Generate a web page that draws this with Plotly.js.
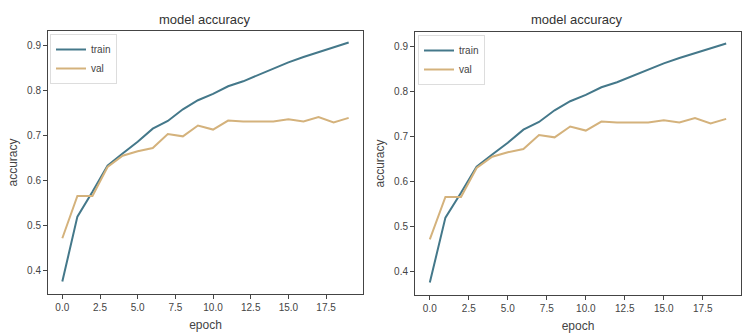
<!DOCTYPE html>
<html>
<head>
<meta charset="utf-8">
<script src="https://cdn.plot.ly/plotly-3.0.1.min.js"></script>
<style>html,body{margin:0;padding:0;background:#fff;}#chart{width:743px;height:333px;}</style>
</head>
<body>
<div id="chart"></div>
<script>
const epochs = [0,1,2,3,4,5,6,7,8,9,10,11,12,13,14,15,16,17,18,19];
const trainAcc = [0.376,0.520,0.575,0.633,0.660,0.686,0.715,0.732,0.758,0.778,0.792,0.809,0.820,0.834,0.848,0.862,0.874,0.885,0.896,0.906];
const valAcc = [0.472,0.566,0.566,0.630,0.655,0.665,0.672,0.703,0.698,0.722,0.713,0.733,0.731,0.731,0.731,0.736,0.731,0.741,0.729,0.739];
const xTicks = [0,2.5,5,7.5,10,12.5,15,17.5];
const xTickText = ["0.0","2.5","5.0","7.5","10.0","12.5","15.0","17.5"];
const yTicks = [0.4,0.5,0.6,0.7,0.8,0.9];
const yTickText = ["0.4","0.5","0.6","0.7","0.8","0.9"];
const chartTitle = "model accuracy";
const seriesNames = ["train","val"];

const trainColor = "#44788a";
const valColor = "#d4b27c";
const FONT = "Liberation Sans, Arial, sans-serif";

const traces = [];
[["x","y","legend"],["x2","y2","legend2"]].forEach(([xa,ya,lg]) => {
  traces.push({x: epochs, y: trainAcc, type: "scatter", mode: "lines", name: seriesNames[0],
    xaxis: xa, yaxis: ya, legend: lg, line: {color: trainColor, width: 2}});
  traces.push({x: epochs, y: valAcc, type: "scatter", mode: "lines", name: seriesNames[1],
    xaxis: xa, yaxis: ya, legend: lg, line: {color: valColor, width: 2}});
});

function xAxis(domain, anchor) {
  return {domain: domain, anchor: anchor, range: [-0.95, 19.95], tickvals: xTicks, ticktext: xTickText,
    showgrid: false, zeroline: false, showline: true, mirror: true, linecolor: "#444", linewidth: 1,
    ticks: "outside", ticklen: 4, tickcolor: "#444", tickfont: {family: FONT, size: 10, color: "#444"},
    title: {text: "epoch", font: {family: FONT, size: 12, color: "#444"}, standoff: 8}};
}
function yAxis(domain, anchor) {
  return {domain: domain, anchor: anchor, range: [0.3485, 0.9315], tickvals: yTicks, ticktext: yTickText,
    showgrid: false, zeroline: false, showline: true, mirror: true, linecolor: "#444", linewidth: 1,
    ticks: "outside", ticklen: 4, tickcolor: "#444", tickfont: {family: FONT, size: 10, color: "#444"},
    title: {text: "accuracy", font: {family: FONT, size: 12, color: "#444"}, standoff: 6}};
}

const W = 743, H = 333;
const legendStyle = {xanchor: "left", yanchor: "top", bgcolor: "#fff",
    bordercolor: "#ddd", borderwidth: 1, font: {family: FONT, size: 10, color: "#444"},
    tracegroupgap: 0, itemwidth: 30};
const layout = {
  width: W, height: H,
  margin: {l: 0, r: 0, t: 0, b: 0},
  paper_bgcolor: "#fff", plot_bgcolor: "#fff",
  showlegend: true,
  xaxis: xAxis([48/W, 363/W], "y"),
  yaxis: yAxis([1-294/H, 1-31/H], "x"),
  xaxis2: xAxis([415/W, 741/W], "y2"),
  yaxis2: yAxis([1-295/H, 1-32/H], "x2"),
  legend: Object.assign({x: 50/W, y: 1-34/H}, legendStyle),
  legend2: Object.assign({x: 418/W, y: 1-35/H}, legendStyle),
  annotations: [
    {text: chartTitle, xref: "paper", yref: "paper", x: 205/W, y: 1-19/H, showarrow: false,
      xanchor: "center", yanchor: "middle", font: {family: FONT, size: 13, color: "#333"}},
    {text: chartTitle, xref: "paper", yref: "paper", x: 577/W, y: 1-19/H, showarrow: false,
      xanchor: "center", yanchor: "middle", font: {family: FONT, size: 13, color: "#333"}}
  ]
};

Plotly.newPlot("chart", traces, layout, {staticPlot: true, displayModeBar: false});
</script>
</body>
</html>
